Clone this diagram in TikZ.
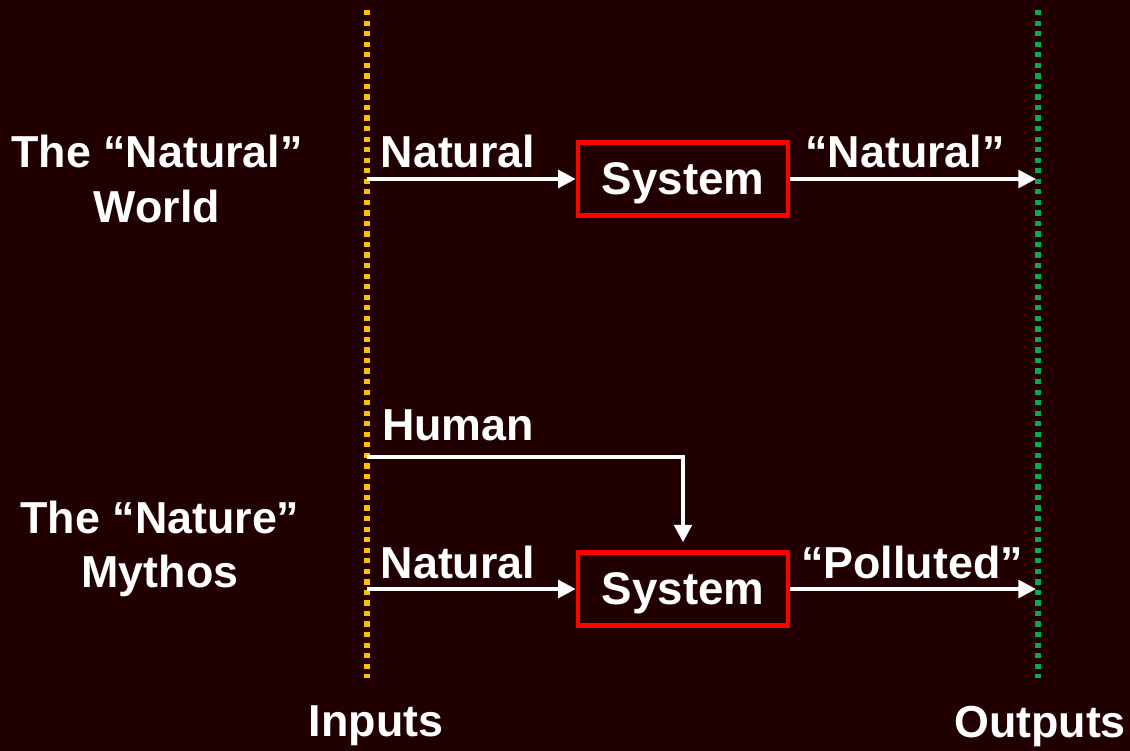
\documentclass[tikz,border=0pt]{standalone}
\usepackage{fontspec}
\setmainfont{Liberation Sans}
\usetikzlibrary{positioning}
\usetikzlibrary{arrows.meta}
\definecolor{bgred}{RGB}{32,0,0}
\definecolor{inyellow}{RGB}{255,192,0}
\definecolor{outgreen}{RGB}{0,176,80}
\tikzset{
  lbl/.style={text=white,font=\bfseries\fontsize{25.5}{31}\selectfont,align=center,inner sep=0pt},
  sysbox/.style={draw=red,line width=2.6pt,minimum width=4.2cm,minimum height=1.46cm,
    text depth=0pt,text=white,font=\bfseries\fontsize{26}{30}\selectfont},
  flow/.style={white,line width=2.2pt,-{Triangle[length=10pt,width=10pt]}},
  border/.style={line width=3pt,dash pattern=on 3pt off 3pt}
}

\begin{document}
\begin{tikzpicture}[x=0.02cm,y=-0.02cm]
    \fill[bgred] (0,0) rectangle (1130,751);
    \useasboundingbox (0,0) rectangle (1130,751);
    % input and output borders
    \coordinate (intop) at (367,10);
    \coordinate (inbot) at (367,678);
    \coordinate (outtop) at (1038,10);
    \coordinate (outbot) at (1038,678);
    \draw[border,inyellow] (intop) -- (inbot);
    \draw[border,outgreen] (outtop) -- (outbot);
    % top row
    \node[sysbox] (sys1) at (683,179) {System};
    \coordinate (in1) at (367,179);
    \coordinate (out1) at (1036,179);
    \draw[flow] (in1) -- (sys1);
    \draw[flow] (sys1) -- (out1);
    \node[lbl] (nat1) at (458,151) {Natural};
    \node[lbl] (natout) at (905,151) {“Natural”};
    \node[lbl] (world) at (157,179) {The “Natural”\\World};
    % bottom row
    \node[sysbox] (sys2) at (683,589) {System};
    \coordinate (in2) at (367,589);
    \coordinate (out2) at (1036,589);
    \coordinate (hum) at (367,457);
    \draw[flow] (in2) -- (sys2);
    \draw[flow] (sys2) -- (out2);
    \draw[flow,shorten >=4.5pt] (hum) -| (sys2);
    \node[lbl] (human) at (458,425) {Human};
    \node[lbl] (nat2) at (458,562) {Natural};
    \node[lbl] (pollout) at (912,562) {“Polluted”};
    \node[lbl] (mythos) at (160,549) {The “Nature”\\Mythos};
    % captions
    \node[lbl] (inputs) at (376,726) {Inputs};
    \node[lbl] (outputs) at (1040,726) {Outputs};
\end{tikzpicture}
\end{document}
